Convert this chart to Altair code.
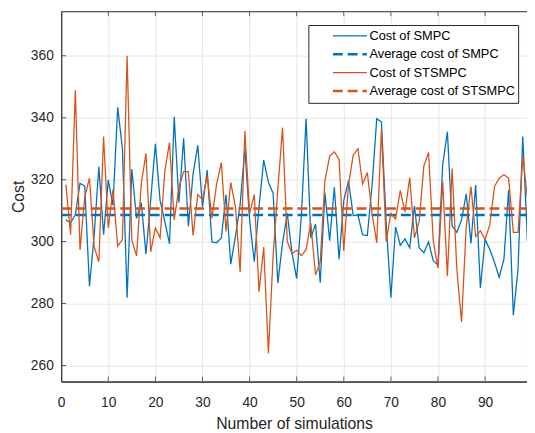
import altair as alt
import pandas as pd

# ---- data ----
sim_index = list(range(1, 100))
cost_smpc = [
    307.0, 306.1, 308.6, 318.8, 317.9, 285.6, 302.0, 324.2, 302.2, 319.9,
    311.7, 343.4, 330.0, 281.9, 323.4, 307.5, 312.6, 295.9, 313.3, 331.6,
    313.3, 306.5, 299.3, 340.3, 312.6, 333.4, 304.9, 321.8, 331.1, 311.2,
    323.1, 299.9, 299.6, 301.2, 315.1, 292.7, 301.7, 312.0, 330.2, 307.0,
    293.5, 311.2, 326.3, 319.1, 315.6, 286.6, 299.6, 309.1, 296.4, 288.0,
    308.6, 339.7, 301.2, 305.6, 286.7, 315.8, 300.3, 317.5, 294.3, 313.3,
    319.7, 308.4, 308.6, 302.2, 302.0, 318.0, 339.7, 338.6, 306.0, 281.9,
    304.7, 298.8, 300.9, 298.0, 311.5, 298.0, 296.4, 299.9, 293.8, 292.5,
    324.9, 335.5, 305.1, 303.0, 307.0, 315.4, 299.4, 318.3, 285.0, 300.7,
    297.5, 293.3, 288.5, 294.3, 316.7, 276.2, 291.2, 333.9, 300.0,
]
cost_stsmpc = [
    318.4, 302.2, 348.9, 297.3, 314.4, 320.5, 298.3, 293.5, 333.9, 304.4,
    316.8, 298.5, 300.7, 360.0, 300.4, 295.4, 318.6, 328.5, 296.7, 304.4,
    301.2, 322.8, 332.0, 307.0, 317.5, 322.6, 322.6, 302.0, 315.2, 313.6,
    321.2, 307.5, 318.6, 325.5, 303.3, 319.1, 311.2, 290.1, 335.7, 309.1,
    315.2, 283.8, 298.2, 263.9, 295.4, 317.0, 336.8, 300.1, 296.1, 297.2,
    295.5, 297.4, 306.0, 289.2, 293.5, 319.7, 327.6, 329.0, 326.5, 297.0,
    318.4, 327.9, 330.0, 318.6, 322.3, 309.1, 299.6, 336.3, 300.1, 309.1,
    307.3, 316.5, 309.6, 320.7, 301.2, 306.5, 324.4, 328.8, 300.1, 291.4,
    319.4, 288.8, 323.6, 291.2, 274.0, 304.9, 317.8, 301.7, 303.5, 300.7,
    305.4, 317.8, 320.5, 321.6, 320.5, 303.0, 303.0, 327.6, 314.0,
]
avg_smpc = 308.6
avg_stsmpc = 310.7
avg_x = [0, 100]

series_names = ["Cost of SMPC", "Average cost of SMPC",
                "Cost of STSMPC", "Average cost of STSMPC"]
series_colors = ["#0072BD", "#0072BD", "#D95319", "#D95319"]
series_dashes = [[1, 0], [10, 5], [1, 0], [10, 5]]
series_widths = [1.3, 2.5, 1.3, 2.5]
x_ticks = [0, 10, 20, 30, 40, 50, 60, 70, 80, 90]
y_ticks = [260, 280, 300, 320, 340, 360]
x_limits = [0, 98.9]
y_limits = [254.8, 374.4]

rows = []
for xi, v in zip(sim_index, cost_smpc):
    rows.append({"series": series_names[0], "x": xi, "y": v})
for xi in avg_x:
    rows.append({"series": series_names[1], "x": xi, "y": avg_smpc})
for xi, v in zip(sim_index, cost_stsmpc):
    rows.append({"series": series_names[2], "x": xi, "y": v})
for xi in avg_x:
    rows.append({"series": series_names[3], "x": xi, "y": avg_stsmpc})
df = pd.DataFrame(rows)

# inward tick marks (MATLAB style) on bottom, top and left edges
xt_rows = [{"x": t, "y": lim} for t in x_ticks for lim in y_limits]
yt_rows = [{"x": x_limits[0], "y": t} for t in y_ticks]
df_xt = pd.DataFrame(xt_rows)
df_yt = pd.DataFrame(yt_rows)

FONT = "Liberation Sans"
INK = "#262626"

xscale = alt.Scale(domain=x_limits, nice=False, zero=False)
yscale = alt.Scale(domain=y_limits, nice=False, zero=False)

# legend sample line: offset to the right inside its entry, MATLAB-like
legend = alt.Legend(
    title=None, orient="none", legendX=251, legendY=14,
    symbolType="M-0.27,0L0.96,0", symbolSize=3136,
    clipHeight=16, rowPadding=2.67,
    padding=3, symbolOffset=0, labelOffset=0,
    labelFont=FONT, labelFontSize=13, labelColor="#000000",
    strokeColor=INK, fillColor="white", cornerRadius=0,
)

lines = alt.Chart(df).mark_line(clip=True).encode(
    x=alt.X("x:Q", scale=xscale,
            axis=alt.Axis(values=x_ticks, title="Number of simulations",
                          labelPadding=14, titlePadding=7)),
    y=alt.Y("y:Q", scale=yscale,
            axis=alt.Axis(values=y_ticks, title="Cost",
                          labelPadding=8, titlePadding=4)),
    color=alt.Color("series:N", sort=series_names,
                    scale=alt.Scale(domain=series_names, range=series_colors),
                    legend=legend),
    strokeDash=alt.StrokeDash("series:N", sort=series_names,
                              scale=alt.Scale(domain=series_names, range=series_dashes),
                              legend=legend),
    strokeWidth=alt.StrokeWidth("series:N", sort=series_names,
                                scale=alt.Scale(type="ordinal", domain=series_names,
                                                range=series_widths),
                                legend=legend),
)

xticks_layer = alt.Chart(df_xt).mark_tick(
    orient="vertical", clip=True, size=10, thickness=1, color=INK
).encode(x=alt.X("x:Q", scale=xscale), y=alt.Y("y:Q", scale=yscale))

yticks_layer = alt.Chart(df_yt).mark_tick(
    orient="horizontal", clip=True, size=10, thickness=1, color=INK
).encode(x=alt.X("x:Q", scale=xscale), y=alt.Y("y:Q", scale=yscale))

chart = alt.layer(lines, xticks_layer, yticks_layer).properties(
    width=473, height=376,
    autosize=alt.AutoSizeParams(type="none"),
    padding={"left": 54, "top": 0, "right": 0, "bottom": 52},
).configure_view(
    stroke=INK, strokeWidth=1,
).configure_axis(
    grid=True, gridColor="#e6e6e6", gridWidth=1,
    domainColor=INK, domainWidth=1, ticks=False,
    labelFont=FONT, labelFontSize=14, labelColor=INK,
    titleFont=FONT, titleFontSize=16, titleFontWeight="normal", titleColor=INK,
    labelFlush=False,
)

chart.save("out.html", embed_options={"renderer": "svg", "actions": False})
